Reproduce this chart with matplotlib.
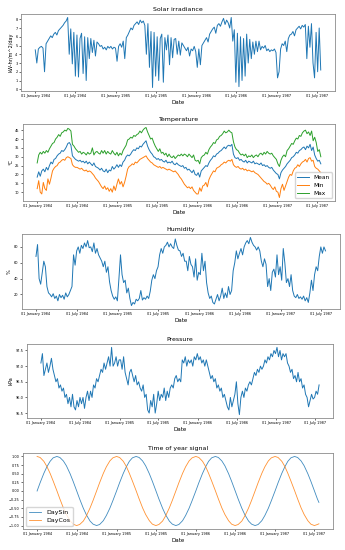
import pandas as pd
import matplotlib
matplotlib.use("Agg")
import matplotlib.pyplot as plt
import matplotlib.dates as mdates

START = "1984-01-01"

# weekly samples (one row per month)
solar = [
    4.5, 3.0, 4.6, 4.8, 4.9, 4.7, 2.0, 5.2, 5.5, 5.8, 6.1, 5.9, 6.3,
    6.5, 6.2, 6.7, 6.9, 7.1, 7.3, 7.6, 7.8, 8.2, 4.0, 6.9, 2.9, 6.5,
    1.5, 6.2, 1.4, 5.8, 6.4, 1.8, 6.0, 1.0, 5.9, 3.5, 5.8, 4.2, 5.6,
    3.8, 5.4, 5.2, 4.9, 5.0, 4.6, 4.8, 4.5, 4.9, 4.7, 4.9, 4.6, 4.8, 4.7,
    # 1985
    3.2, 4.9, 5.2, 4.8, 5.5, 3.5, 5.9, 6.2, 6.6, 7.0, 6.8, 7.3, 7.5,
    7.7, 7.4, 7.9, 7.6, 7.8, 7.3, 4.0, 7.5, 2.5, 6.6, 0.2, 6.5, 1.5,
    6.0, 1.0, 5.8, 6.3, 0.8, 5.9, 4.5, 6.2, 2.8, 5.9, 3.6, 5.7, 5.8,
    4.0, 5.5, 3.9, 5.3, 5.0, 4.7, 4.4, 4.8, 3.8, 4.6, 4.4, 4.9, 4.3,
    # 1986
    2.5, 4.6, 2.8, 5.0, 5.3, 5.6, 5.9, 5.4, 6.3, 6.6, 6.9, 7.1, 6.4,
    7.3, 7.5, 7.2, 7.7, 8.1, 7.4, 7.9, 7.6, 7.0, 8.2, 5.5, 6.8, 0.8,
    6.4, 0.3, 6.0, 1.0, 5.8, 1.5, 6.3, 3.0, 5.7, 3.5, 5.4, 4.0, 5.5,
    4.3, 5.5, 4.5, 4.9, 4.7, 5.0, 4.4, 4.6, 4.3, 4.5, 4.4, 4.6, 4.2,
    # 1987
    1.3, 2.0, 4.6, 5.2, 5.0, 5.5, 4.3, 5.8, 6.2, 6.3, 6.6, 6.1, 6.8,
    7.0, 7.2, 6.9, 7.3, 7.1, 7.4, 3.5, 7.2, 4.8, 7.5, 3.0, 1.3, 6.5,
    2.0, 7.0, 2.2,
]

temp_mean = [
    18.5, 21.5, 19.0, 22.0, 23.0, 21.5, 24.0, 22.5, 25.0, 27.0, 26.0, 28.5, 29.0,
    30.5, 31.5, 32.0, 33.5, 33.0, 34.0, 35.5, 37.5, 38.0, 36.5, 30.5, 29.5, 28.5,
    28.0, 27.5, 28.0, 27.0, 27.5, 26.5, 27.5, 26.0, 27.0, 26.0, 25.0, 26.5, 24.5,
    24.0, 23.5, 22.5, 23.5, 22.0, 21.5, 23.0, 21.0, 22.5, 22.0, 24.5, 23.0, 24.0, 25.5,
    # 1985
    24.0, 25.5, 24.5, 27.0, 28.0, 30.0, 31.0, 30.5, 31.5, 33.0, 34.0, 33.5, 35.0,
    34.5, 36.0, 35.5, 37.0, 38.0, 39.0, 36.0, 34.0, 32.5, 31.5, 30.0, 29.5, 28.5,
    29.0, 28.0, 28.5, 27.5, 27.0, 28.0, 26.5, 27.0, 26.5, 27.5, 26.0, 25.5, 26.5,
    25.5, 25.0, 24.5, 25.0, 23.5, 24.0, 22.5, 23.0, 22.0, 21.0, 22.5, 20.0, 19.5,
    # 1986
    21.0, 18.5, 22.0, 23.0, 24.0, 25.0, 24.5, 26.5, 28.0, 29.0, 30.5, 30.0, 31.5,
    32.0, 33.0, 33.5, 34.5, 35.5, 34.5, 36.0, 36.5, 36.0, 37.0, 31.5, 29.5, 29.0,
    29.5, 28.0, 28.5, 27.5, 27.0, 28.0, 26.5, 27.5, 27.0, 26.5, 27.5, 26.0, 26.5,
    26.0, 25.5, 26.5, 25.0, 25.5, 24.5, 25.0, 24.0, 23.5, 24.0, 22.5, 21.5, 20.5,
    # 1987
    20.0, 17.5, 21.0, 22.5, 23.5, 24.5, 26.0, 27.0, 28.0, 29.5, 30.0, 31.0, 32.5,
    32.0, 33.5, 34.0, 35.0, 35.5, 34.0, 36.0, 35.0, 37.0, 33.5, 35.5, 31.0, 29.0,
    27.5, 28.0, 26.0,
]

temp_min = [
    12.0, 16.5, 10.0, 9.0, 15.5, 12.0, 11.0, 17.5, 14.5, 18.0, 22.0, 23.5, 24.5,
    25.0, 26.5, 27.0, 28.0, 28.5, 28.0, 29.5, 30.0, 29.5, 29.0, 25.5, 24.5, 24.0,
    24.0, 23.5, 23.0, 23.5, 22.5, 22.0, 22.5, 21.5, 22.0, 21.5, 20.5, 19.5, 18.0,
    17.0, 16.0, 14.5, 13.0, 12.0, 13.5, 11.5, 12.5, 10.5, 12.0, 10.0, 13.5, 11.0, 14.5,
    # 1985
    17.5, 14.5, 16.0, 13.0, 15.5, 19.0, 23.0, 24.5, 25.0, 26.0, 25.5, 27.0, 26.5,
    27.5, 28.5, 29.0, 29.5, 30.0, 30.5, 29.0, 28.0, 27.0, 26.5, 25.5, 25.0, 24.5,
    24.0, 24.5, 23.5, 24.0, 23.5, 23.0, 22.5, 23.0, 22.5, 22.0, 21.5, 22.0, 21.0,
    20.0, 18.5, 17.5, 16.0, 14.5, 13.5, 12.5, 13.0, 12.0, 13.0, 11.0, 10.0, 9.0,
    # 1986
    9.0, 12.5, 10.5, 13.5, 14.0, 15.5, 13.0, 17.0, 19.0, 20.5, 22.0, 21.5, 23.5,
    24.0, 24.5, 25.5, 26.0, 27.0, 26.5, 27.5, 28.0, 27.5, 28.5, 25.5, 24.5, 24.0,
    24.5, 23.5, 23.0, 23.5, 22.5, 23.0, 22.0, 22.5, 22.0, 21.5, 22.0, 21.0, 20.5,
    20.0, 19.0, 18.0, 17.0, 16.0, 15.5, 14.5, 15.0, 14.0, 12.5, 11.5, 13.0, 10.5,
    # 1987
    10.0, 7.0, 12.0, 14.5, 11.0, 13.5, 16.0, 18.5, 20.0, 19.5, 22.0, 23.5, 24.0,
    25.5, 24.5, 26.0, 27.0, 27.5, 28.5, 27.0, 29.0, 29.5, 27.5, 28.0, 24.5, 23.5,
    23.0, 22.0, 21.0,
]

temp_max = [
    26.5, 31.0, 32.5, 31.5, 33.0, 32.0, 33.5, 32.5, 34.5, 36.0, 37.5, 38.0, 40.0,
    41.0, 42.5, 41.5, 43.5, 44.0, 45.0, 44.5, 46.0, 45.5, 44.5, 37.0, 36.0, 34.5,
    33.5, 32.5, 33.0, 31.5, 32.5, 32.0, 31.0, 32.5, 31.5, 32.0, 35.0, 31.0, 32.5,
    33.0, 32.0, 31.5, 33.5, 32.0, 33.5, 31.5, 33.0, 32.0, 31.5, 33.5, 32.0, 31.0, 32.5,
    # 1985
    30.5, 32.0, 31.0, 33.5, 35.0, 36.5, 39.5, 40.0, 41.0, 40.5, 42.0, 41.5, 42.5,
    43.0, 44.5, 43.5, 45.0, 46.0, 46.5, 44.0, 42.0, 40.0, 40.5, 38.0, 36.0, 34.5,
    33.0, 34.5, 32.0, 32.5, 31.0, 32.0, 30.0, 31.5, 30.0, 29.5, 30.5, 29.0, 30.0,
    31.0, 30.5, 31.5, 30.5, 31.5, 31.0, 30.0, 31.5, 30.5, 29.5, 31.0, 28.0, 27.5,
    # 1986
    28.0, 26.0, 29.5, 30.5, 31.0, 32.5, 31.5, 34.0, 35.5, 36.5, 38.0, 37.5, 39.5,
    40.0, 41.5, 42.0, 43.0, 44.5, 43.5, 44.0, 45.0, 44.0, 43.5, 38.5, 35.5, 34.0,
    33.5, 32.0, 31.0, 31.5, 30.5, 31.5, 29.5, 30.5, 30.0, 31.0, 29.5, 30.5, 31.0,
    30.0, 31.5, 32.0, 31.0, 32.5, 31.5, 33.0, 32.0, 31.5, 32.0, 30.5, 29.5, 28.5,
    # 1987
    26.0, 24.5, 28.0, 30.0, 31.0, 30.0, 33.5, 34.5, 36.0, 37.5, 37.0, 39.0, 40.5,
    40.0, 42.0, 41.5, 43.5, 44.5, 45.0, 43.0, 44.0, 42.0, 44.5, 39.0, 41.0, 38.0,
    33.0, 34.0, 30.0,
]

humidity = [
    68, 83, 40, 33, 48, 62, 55, 30, 22, 20, 17, 21, 15,
    18, 12, 20, 16, 19, 14, 22, 17, 20, 25, 30, 70, 57,
    75, 80, 72, 82, 78, 85, 80, 88, 79, 80, 74, 85, 72,
    78, 70, 66, 62, 55, 62, 48, 55, 36, 25, 18, 14, 17, 12,
    # 1985
    40, 70, 45, 35, 38, 22, 28, 15, 6, 10, 8, 14, 12,
    15, 25, 13, 16, 14, 18, 15, 24, 38, 45, 40, 50, 55,
    70, 78, 72, 80, 82, 86, 80, 84, 80, 78, 90, 82, 76,
    75, 68, 72, 62, 62, 50, 68, 58, 55, 42, 65, 38, 48,
    # 1986
    45, 72, 50, 62, 35, 22, 15, 18, 10, 8, 14, 20, 12,
    18, 28, 15, 22, 16, 30, 20, 25, 50, 60, 75, 65, 72,
    78, 70, 80, 85, 88, 84, 92, 86, 82, 80, 76, 80, 75,
    62, 55, 65, 58, 30, 40, 25, 48, 52, 42, 70, 45, 55,
    # 1987
    38, 78, 60, 35, 40, 30, 45, 25, 18, 16, 20, 15, 17,
    14, 18, 12, 16, 10, 22, 38, 25, 45, 55, 50, 68, 80,
    72, 80, 75,
]

pressure = [
    97.1, 97.4, 96.7, 96.9, 97.1, 96.8, 97.0, 97.25, 96.9, 96.7, 96.5, 96.6, 96.3,
    96.4, 96.2, 96.3, 96.0, 96.1, 95.8, 96.0, 95.7, 96.1, 95.7, 95.6, 95.9, 95.7,
    96.0, 95.8, 96.0, 95.65, 96.0, 96.2, 95.9, 96.2, 96.0, 96.4, 96.3, 96.6, 96.5,
    96.7, 96.9, 96.8, 97.1, 96.9, 97.1, 97.3, 97.0, 97.6, 97.0, 97.1, 97.3, 97.0, 97.2,
    # 1985
    97.2, 96.9, 97.3, 96.8, 96.6, 96.4, 96.8, 96.9, 96.7, 96.5, 96.7, 96.4, 96.5,
    96.3, 96.2, 96.4, 96.0, 96.1, 95.6, 95.5, 95.9, 95.7, 96.1, 95.5, 95.8, 96.2,
    95.9, 96.1, 96.0, 96.3, 95.9, 96.2, 96.0, 96.3, 96.4, 96.3, 96.6, 96.7, 96.5,
    96.6, 96.5, 97.2, 97.1, 97.3, 97.0, 97.2, 97.1, 97.2, 97.0, 97.3, 97.2, 97.4,
    # 1986
    97.2, 97.3, 97.1, 97.2, 97.0, 97.2, 97.0, 96.8, 96.6, 96.7, 96.5, 96.6, 96.3,
    96.4, 96.2, 96.3, 96.0, 96.1, 95.9, 95.7, 95.6, 96.0, 95.7, 95.9, 96.1, 96.5,
    95.8, 95.45, 96.0, 96.2, 96.0, 96.3, 96.2, 96.4, 96.5, 96.4, 96.6, 96.8, 96.7,
    96.9, 96.8, 97.0, 96.9, 97.0, 97.2, 97.1, 97.3, 97.2, 97.4, 97.3, 97.5, 97.4,
    # 1987
    97.6, 97.3, 97.5, 97.2, 97.4, 97.3, 97.4, 97.1, 97.0, 96.8, 96.9, 96.6, 96.7,
    96.5, 96.8, 96.5, 96.6, 96.3, 96.4, 96.1, 96.0, 95.7, 95.9, 96.1, 95.95, 96.0,
    96.2, 96.1, 96.4,
]

# time-of-year signal, sampled on the 1st and 15th of each month
day_sin = [
    0.00, 0.24, 0.51, 0.70, 0.86, 0.96, 1.00, 0.97, 0.87, 0.73, 0.50, 0.28,
    0.01, -0.23, -0.50, -0.69, -0.87, -0.96, -1.00, -0.97, -0.86, -0.71, -0.50, -0.28,
    0.00, 0.24, 0.51, 0.70, 0.86, 0.96, 1.00, 0.97, 0.87, 0.73, 0.50, 0.28,
    0.01, -0.23, -0.50, -0.69, -0.87, -0.96, -1.00, -0.97, -0.86, -0.71, -0.50, -0.28,
    0.00, 0.24, 0.51, 0.70, 0.86, 0.96, 1.00, 0.97, 0.87, 0.73, 0.50, 0.28,
    0.01, -0.23, -0.50, -0.69, -0.87, -0.96, -1.00, -0.97, -0.86, -0.71, -0.50, -0.28,
    0.00, 0.24, 0.51, 0.70, 0.86, 0.96, 1.00, 0.97, 0.87, 0.73, 0.50, 0.28,
    0.01, -0.23, -0.33,
]
day_cos = [
    1.00, 0.97, 0.86, 0.71, 0.51, 0.29, 0.01, -0.23, -0.49, -0.68, -0.86, -0.96,
    -1.00, -0.97, -0.87, -0.72, -0.49, -0.27, 0.00, 0.24, 0.51, 0.70, 0.87, 0.96,
    1.00, 0.97, 0.86, 0.71, 0.51, 0.29, 0.01, -0.23, -0.49, -0.68, -0.86, -0.96,
    -1.00, -0.97, -0.87, -0.72, -0.49, -0.27, 0.00, 0.24, 0.51, 0.70, 0.87, 0.96,
    1.00, 0.97, 0.86, 0.71, 0.51, 0.29, 0.01, -0.23, -0.49, -0.68, -0.86, -0.96,
    -1.00, -0.97, -0.87, -0.72, -0.49, -0.27, 0.00, 0.24, 0.51, 0.70, 0.87, 0.96,
    1.00, 0.97, 0.86, 0.71, 0.51, 0.29, 0.01, -0.23, -0.49, -0.68, -0.86, -0.96,
    -1.00, -0.97, -0.95,
]
sig_dates = pd.date_range(START, "1987-07-15", freq="SMS").append(pd.DatetimeIndex(["1987-07-22"]))


def weekly(vals):
    return pd.date_range(START, periods=len(vals), freq="7D")


def style(ax, title, ylabel=None):
    ax.set_title(title, fontsize=4.5, pad=2.5)
    ax.set_xlabel("Date", fontsize=4.0, labelpad=0.8)
    if ylabel:
        ax.set_ylabel(ylabel, fontsize=3.6, labelpad=1.2)
    ax.xaxis.set_major_locator(mdates.MonthLocator(bymonth=[1, 7]))
    ax.xaxis.set_major_formatter(mdates.DateFormatter("%d %B %Y"))
    ax.tick_params(labelsize=2.5, length=1.5, width=0.4, pad=1)
    for s in ax.spines.values():
        s.set_linewidth(0.6)
        s.set_color("0.55")


W, H = 345, 550
fig = plt.figure(figsize=(W / 100, H / 100), dpi=100)


def add_ax(left, right, top, bottom):
    return fig.add_axes([left / W, 1 - bottom / H, (right - left) / W, (bottom - top) / H])


lw = 0.7

ax = add_ax(21, 335, 14, 91)
ax.plot(weekly(solar), solar, lw=lw)
style(ax, "Solar irradiance", "kW-hr/m^2/day")

ax = add_ax(23, 335, 124, 201)
ax.plot(weekly(temp_mean), temp_mean, lw=lw, label="Mean")
ax.plot(weekly(temp_min), temp_min, lw=lw, label="Min")
ax.plot(weekly(temp_max), temp_max, lw=lw, label="Max")
style(ax, "Temperature", "°C")
ax.legend(loc="lower right", fontsize=4.2)

ax = add_ax(21.5, 340, 234, 309)
ax.plot(weekly(humidity), humidity, lw=lw)
style(ax, "Humidity", "%")

ax = add_ax(27, 333, 344, 418)
ax.plot(weekly(pressure), pressure, lw=lw)
style(ax, "Pressure", "kPa")

ax = add_ax(23, 333, 453, 529)
ax.plot(sig_dates, day_sin, lw=0.6, label="DaySin", alpha=0.85)
ax.plot(sig_dates, day_cos, lw=0.6, label="DayCos", alpha=0.85)
style(ax, "Time of year signal")
ax.legend(loc="lower left", fontsize=4.5)

fig.savefig("out.png", dpi=100)
